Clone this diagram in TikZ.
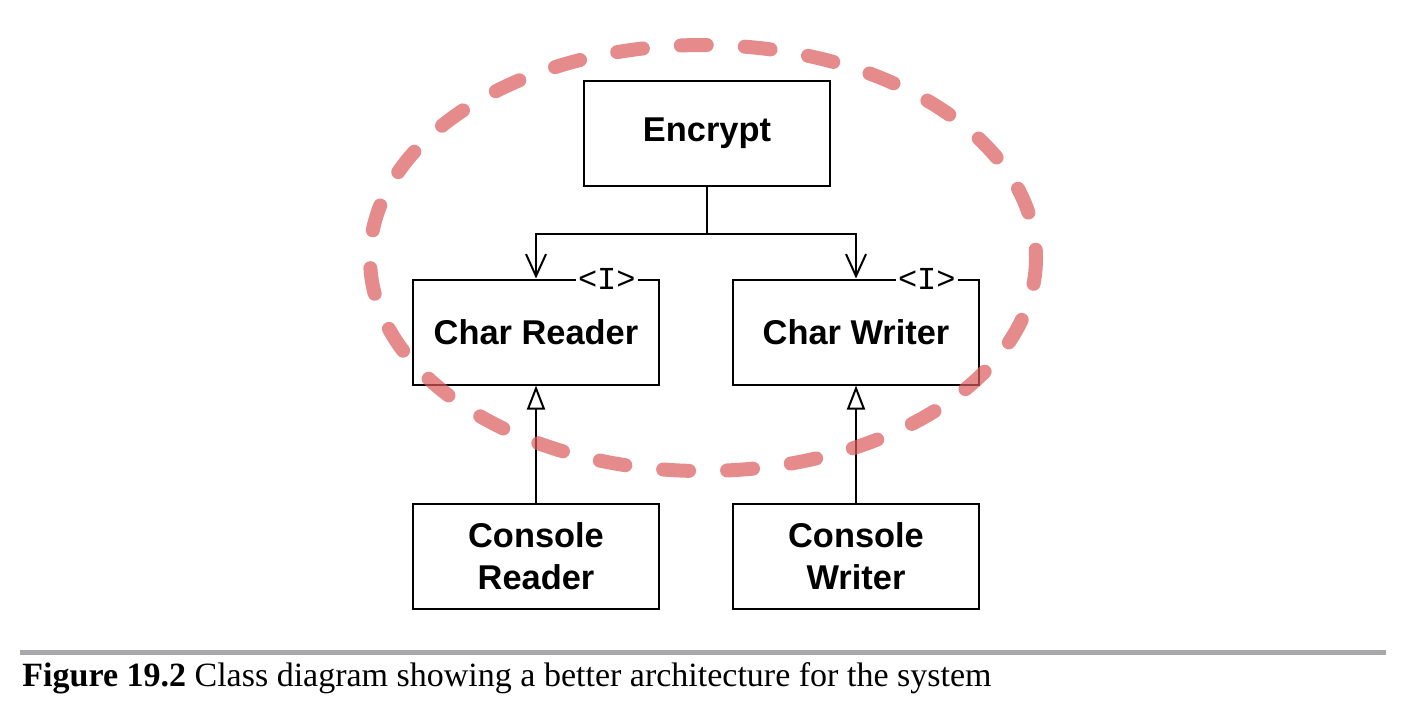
\documentclass[tikz,border=0pt]{standalone}
\usepackage{fontspec}
\setmainfont{Liberation Serif}
\newfontfamily\boxfont{Liberation Sans}
\newfontfamily\tagfont{Liberation Mono}
\usetikzlibrary{positioning, arrows.meta}
\definecolor{ringred}{RGB}{220,90,90}
\definecolor{rulegray}{RGB}{168,168,172}
\tikzstyle{cls} = [rectangle, draw=black, line width=1pt, fill=white, minimum width=123pt, minimum height=52.5pt, align=center, font=\boxfont\bfseries\fontsize{17.2}{21}\selectfont]
\tikzstyle{tag} = [fill=white, inner sep=1pt, font=\tagfont\fontsize{16}{16}\selectfont]
\tikzstyle{dep} = [line width=1pt, -{Straight Barb[length=11pt,width=10pt]}]
\tikzstyle{impl} = [line width=1pt, -{Triangle[open,length=12pt,width=9pt]}]
\tikzstyle{ring} = [line width=7pt, line cap=round, dash pattern=on 13pt off 19pt, draw=ringred, draw opacity=0.7]

\begin{document}
\begin{tikzpicture}[x=0.5pt, y=-0.5pt]
		\useasboundingbox (0,0) rectangle (1406,714);
		\node (enc) [cls] at (707,133) {Encrypt};
		\node (cr) [cls] at (536,332) {Char Reader};
		\node (cw) [cls, right=36pt of cr] {Char Writer};
		\node (crtag) [tag, left=11pt of cr.north east] {<I>};
		\node (cwtag) [tag, left=11pt of cw.north east] {<I>};
		\node (conr) [cls, below=58.5pt of cr] {Console\\Reader};
		\node (conw) [cls, below=58.5pt of cw] {Console\\Writer};
		\coordinate [below=23.5pt of enc] (join);
		\draw [line width=1pt] (enc) -- (join);
		\draw [dep] (join) -| (cr);
		\draw [dep] (join) -| (cw);
		\draw [impl] (conr) -- (cr);
		\draw [impl] (conw) -- (cw);
		% dashed boundary round the core
		\draw [ring] (703,258) ellipse [x radius=333, y radius=213];
		% caption
		\draw [line width=2.5pt, rulegray] (20,652.5) -- (1386,652.5);
		\node (cap) [anchor=base west, inner sep=0pt, font=\fontsize{17}{20}\selectfont] at (22,686) {\textbf{Figure 19.2} Class diagram showing a better architecture for the system};
\end{tikzpicture}
\end{document}
